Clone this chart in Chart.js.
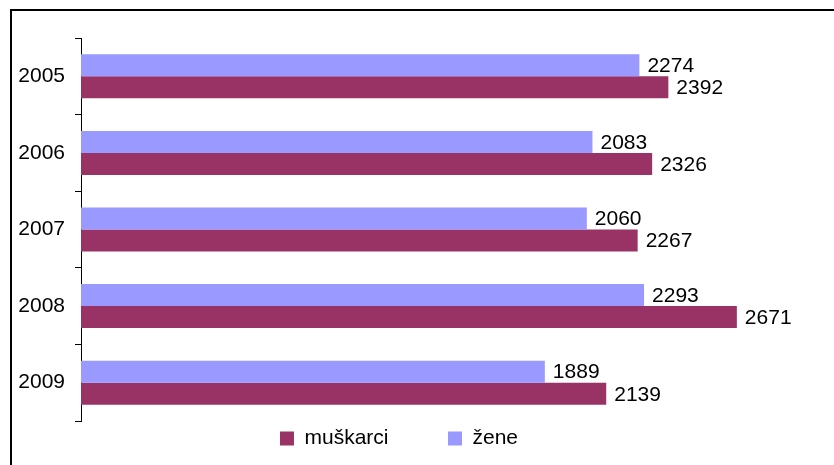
<!DOCTYPE html>
<html>
<head>
<meta charset="utf-8">
<script src="https://cdn.jsdelivr.net/npm/chart.js@4/dist/chart.umd.min.js"></script>
<style>
  body { margin: 0; background: #fff; }
  #wrap { width: 834px; height: 465px; }
</style>
</head>
<body>
<div id="wrap"><canvas id="barChart"></canvas></div>
<script>
const years = ['2005', '2006', '2007', '2008', '2009'];
const zene = [2274, 2083, 2060, 2293, 1889];
const muskarci = [2392, 2326, 2267, 2671, 2139];

const fontFamily = '"Liberation Sans", Arial, sans-serif';

// okvir oko grafikona
const framePlugin = {
    id: 'frame',
    beforeDraw(chart) {
        const ctx = chart.ctx;
        ctx.save();
        ctx.strokeStyle = '#000';
        ctx.lineWidth = 2;
        ctx.strokeRect(11, 10, 900, 600);
        ctx.restore();
    }
};

// vrijednosti desno od stupaca
const valueLabels = {
    id: 'valueLabels',
    afterDatasetsDraw(chart) {
        const ctx = chart.ctx;
        ctx.save();
        ctx.font = '21px ' + fontFamily;
        ctx.fillStyle = '#000';
        ctx.textAlign = 'left';
        ctx.textBaseline = 'middle';
        chart.data.datasets.forEach((ds, i) => {
            chart.getDatasetMeta(i).data.forEach((bar, j) => {
                ctx.fillText(ds.data[j], bar.x + 8, bar.y + 1);
            });
        });
        ctx.restore();
    }
};

const config = {
    type: 'bar',
    data: {
        labels: years,
        datasets: [
            {
                label: 'žene',
                data: zene,
                backgroundColor: '#9999FF',
                categoryPercentage: 0.575,
                barPercentage: 1.0
            },
            {
                label: 'muškarci',
                data: muskarci,
                backgroundColor: '#993366',
                categoryPercentage: 0.575,
                barPercentage: 1.0
            }
        ]
    },
    options: {
        indexAxis: 'y',
        responsive: true,
        maintainAspectRatio: false,
        animation: false,
        layout: {
            padding: { top: 38, left: 0, right: 36, bottom: 6 }
        },
        scales: {
            x: {
                display: false,
                min: 0,
                max: 2920
            },
            y: {
                border: { color: '#000', width: 1 },
                grid: {
                    offset: true,
                    drawOnChartArea: false,
                    drawTicks: true,
                    tickLength: 6,
                    tickColor: '#000'
                },
                ticks: {
                    color: '#000',
                    padding: 10,
                    font: { family: fontFamily, size: 21 }
                },
                afterFit(scale) { scale.width = 81; }
            }
        },
        plugins: {
            legend: {
                position: 'bottom',
                reverse: true,
                labels: {
                    color: '#000',
                    boxWidth: 14,
                    boxHeight: 14,
                    padding: 7,
                    font: { family: fontFamily, size: 21 },
                    generateLabels(chart) {
                        const items = Chart.defaults.plugins.legend.labels.generateLabels(chart);
                        // razmak izmedju stavki legende
                        items.forEach(it => {
                            if (it.text === 'muškarci') it.text += '\u00A0'.repeat(9);
                        });
                        return items;
                    }
                }
            },
            tooltip: { enabled: false }
        }
    },
    plugins: [framePlugin, valueLabels]
};

const ctx = document.getElementById('barChart').getContext('2d');
const myChart = new Chart(ctx, config);
</script>
</body>
</html>
